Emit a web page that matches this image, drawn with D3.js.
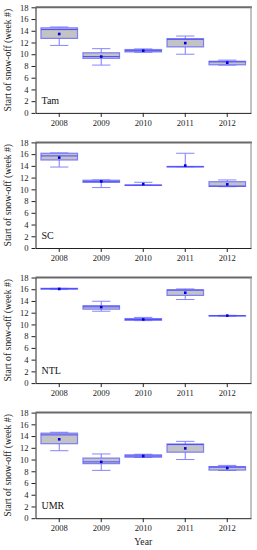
<!DOCTYPE html>
<html>
<head>
<meta charset="utf-8">
<script src="https://cdn.jsdelivr.net/npm/d3@7"></script>
<style>
    body { margin: 0; background: #fff; }
    svg { display: block; }
</style>
</head>
<body>
<svg id="chart"></svg>
<script>

// DATA

const years = ["2008", "2009", "2010", "2011", "2012"];
const siteNames = ["Tam", "SC", "NTL", "UMR"];
const yTicks = [0, 2, 4, 6, 8, 10, 12, 14, 16, 18];

// each row: [min, q1, median, q3, max, mean]
const tamStats = [
    [11.5, 12.7, 14.2, 14.5, 14.65, 13.45],
    [8.15, 9.3, 9.6, 10.25, 10.95, 9.6],
    [10.35, 10.4, 10.6, 10.8, 10.9, 10.6],
    [10.0, 11.25, 12.55, 12.65, 13.1, 11.9],
    [8.15, 8.2, 8.7, 8.8, 9.0, 8.55]
];

const scStats = [
    [13.8, 15.0, 15.7, 16.15, 16.2, 15.4],
    [10.3, 11.2, 11.3, 11.55, 11.6, 11.35],
    [10.7, 10.7, 10.7, 10.75, 11.2, 10.9],
    [13.85, 13.85, 13.85, 13.9, 16.15, 14.05],
    [10.45, 10.5, 10.55, 11.3, 11.6, 10.85]
];

const ntlStats = [
    [15.95, 16.0, 16.1, 16.15, 16.15, 16.05],
    [12.25, 12.6, 13.0, 13.2, 13.95, 12.95],
    [10.65, 10.7, 10.85, 11.0, 11.2, 10.85],
    [14.25, 14.95, 15.85, 15.9, 16.05, 15.4],
    [11.4, 11.45, 11.5, 11.5, 11.55, 11.5]
];

const umrStats = [
    [11.5, 12.7, 14.2, 14.5, 14.65, 13.45],
    [8.15, 9.3, 9.6, 10.25, 10.95, 9.6],
    [10.35, 10.4, 10.6, 10.8, 10.9, 10.6],
    [10.0, 11.25, 12.55, 12.65, 13.1, 11.9],
    [8.15, 8.2, 8.7, 8.8, 9.0, 8.55]
];

const allStats = [tamStats, scStats, ntlStats, umrStats];


// LAYOUT

const width = 257;
const height = 550;
const plotLeft = 35.5;
const plotRight = 251;
const plotHeight = 105.6;
const firstTop = 7.3;
const panelStep = 135.1;
const font = "'Liberation Serif', 'Times New Roman', serif";

const svg = d3.select("#chart")
    .attr("width", width)
    .attr("height", height);

const x = d3.scaleBand()
    .domain(years)
    .range([plotLeft, plotRight])
    .padding(0.13);

const y = d3.scaleLinear()
    .domain([0, 18])
    .range([plotHeight, 0]);


// PANELS

for (let p = 0; p < siteNames.length; p++) {

    const stats = allStats[p];
    const top = firstTop + p * panelStep;

    const g = svg.append("g")
        .attr("transform", "translate(0," + top + ")");

    // top and right frame
    g.append("line")
        .attr("x1", plotLeft).attr("x2", plotRight + 1)
        .attr("y1", 0).attr("y2", 0)
        .attr("stroke", "#6a6a6a")
        .attr("stroke-width", 2);

    g.append("line")
        .attr("x1", plotRight).attr("x2", plotRight)
        .attr("y1", 0).attr("y2", plotHeight)
        .attr("stroke", "#9a9a9a")
        .attr("stroke-width", 1.2);

    // axes
    const yAxis = g.append("g")
        .attr("transform", "translate(" + plotLeft + ",0)")
        .call(d3.axisLeft(y).tickValues(yTicks).tickSize(4).tickSizeOuter(0).tickPadding(3));

    const xAxis = g.append("g")
        .attr("transform", "translate(0," + plotHeight + ")")
        .call(d3.axisBottom(x).tickSize(4).tickSizeOuter(0).tickPadding(3));

    for (let axis of [yAxis, xAxis]) {
        axis.selectAll("text")
            .attr("font-family", font)
            .attr("font-size", 8.6)
            .attr("fill", "#222");
        axis.selectAll("line, path")
            .attr("stroke", "#222");
    }

    // boxes
    const boxes = g.selectAll(".box")
        .data(stats)
        .enter()
        .append("g")
        .attr("class", "box");

    boxes.each(function (d, i) {

        const b = d3.select(this);
        const cx = x(years[i]) + x.bandwidth() / 2;
        const bw = x.bandwidth();
        const capW = bw / 2;

        // whiskers
        b.append("line")
            .attr("x1", cx).attr("x2", cx)
            .attr("y1", y(d[0])).attr("y2", y(d[1]))
            .attr("stroke", "#7b7bff").attr("stroke-width", 1);

        b.append("line")
            .attr("x1", cx).attr("x2", cx)
            .attr("y1", y(d[3])).attr("y2", y(d[4]))
            .attr("stroke", "#7b7bff").attr("stroke-width", 1);

        for (let v of [d[0], d[4]]) {
            b.append("line")
                .attr("x1", cx - capW / 2).attr("x2", cx + capW / 2)
                .attr("y1", y(v)).attr("y2", y(v))
                .attr("stroke", "#8585ff").attr("stroke-width", 1);
        }

        // box
        b.append("rect")
            .attr("x", cx - bw / 2)
            .attr("y", y(d[3]))
            .attr("width", bw)
            .attr("height", Math.max(y(d[1]) - y(d[3]), 0.5))
            .attr("fill", "#c3c3c6")
            .attr("stroke", "#5c5cff")
            .attr("stroke-opacity", 0.75)
            .attr("stroke-width", 1.2);

        // median
        b.append("line")
            .attr("x1", cx - bw / 2).attr("x2", cx + bw / 2)
            .attr("y1", y(d[2])).attr("y2", y(d[2]))
            .attr("stroke", "#4a4aff").attr("stroke-width", 1);

        // mean
        b.append("rect")
            .attr("x", cx - 1.3)
            .attr("y", y(d[5]) - 1.3)
            .attr("width", 2.6)
            .attr("height", 2.6)
            .attr("fill", "#0000dd");
    });

    // site label
    g.append("text")
        .attr("x", plotLeft + 6)
        .attr("y", plotHeight - 9)
        .attr("font-family", font)
        .attr("font-size", 10)
        .attr("fill", "#111")
        .text(siteNames[p]);

    // y title
    g.append("text")
        .attr("transform", "translate(11," + (plotHeight / 2) + ") rotate(-90)")
        .attr("text-anchor", "middle")
        .attr("font-family", font)
        .attr("font-size", 9.7)
        .attr("fill", "#222")
        .text("Start of snow-off (week #)");
}

// x title
svg.append("text")
    .attr("x", (plotLeft + plotRight) / 2)
    .attr("y", 545)
    .attr("text-anchor", "middle")
    .attr("font-family", font)
    .attr("font-size", 9.7)
    .attr("fill", "#222")
    .text("Year");

</script>
</body>
</html>
